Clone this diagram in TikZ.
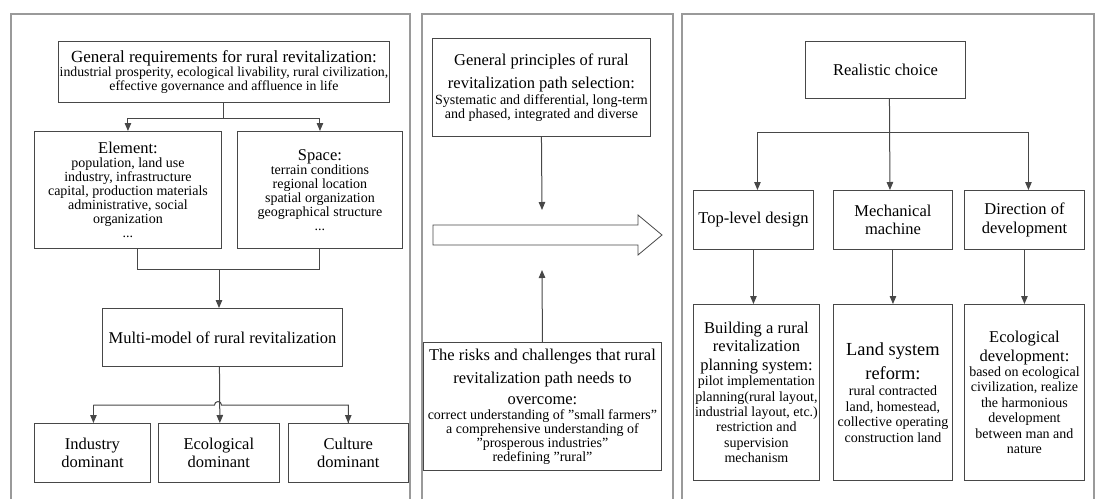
\documentclass[tikz,border=0pt]{standalone}
\usepackage{fontspec}
\setmainfont{Liberation Serif}
\usepackage{tikz}
\usetikzlibrary{positioning,arrows.meta}
\definecolor{boxgray}{HTML}{474747}
\definecolor{panelgray}{HTML}{9A9A9A}
\newcommand{\ttl}{\fontsize{16.5}{18.5}\selectfont}
\newcommand{\bigttl}{\fontsize{18.4}{21}\selectfont}
\newcommand{\bdy}{\fontsize{14}{14}\selectfont}
\tikzset{box node/.style={draw=boxgray, line width=0.9pt, rectangle, inner sep=1pt, align=center, anchor=north west, font=\bdy},
  tall box/.style={box node, font=\fontsize{14}{15.4}\selectfont},
  title box/.style={box node, font=\ttl},
  panel line/.style={draw=panelgray, line width=1.1pt},
  link/.style={draw=boxgray, line width=1pt},
  arr/.style={link, -{Triangle[length=8pt,width=6.5pt]}},}

\begin{document}
\begin{tikzpicture}[x=1pt, y=-1pt]
        \useasboundingbox (0,0) rectangle (1095,498);
        % Panels
        \draw[panel line] (11,500) |- (410,14) -- (410,500);
        \draw[panel line] (422,500) |- (673,14) -- (673,500);
        \draw[panel line] (682,500) |- (1094,14) -- (1094,500);
        % Left panel
        \node[box node, minimum width=331pt, minimum height=61pt] (gen) at (58,41)
          {\fontsize{17}{16}\selectfont General requirements for rural revitalization:\\
           \fontsize{13.8}{13.4}\selectfont industrial prosperity, ecological livability, rural civilization,\\
           \fontsize{13.8}{13.4}\selectfont effective governance and affluence in life};
        \node[box node, minimum width=187pt, minimum height=117pt] (elem) at (34,131)
          {\ttl Element:\\ population, land use\\ industry, infrastructure\\
           capital, production materials\\ administrative, social\\
           organization\\ ...};
        \node[box node, minimum width=165pt, minimum height=117pt] (space) at (237,131)
          {\ttl Space:\\ terrain conditions\\ regional location\\
           spatial organization\\ geographical structure\\ ...};
        \node[title box, minimum width=240pt, minimum height=58pt] (multi) at (102,308)
          {Multi-model of rural revitalization};
        \node[title box, minimum width=116pt, minimum height=59pt] (ind) at (34,423)
          {Industry\\ dominant};
        \node[title box, minimum width=121pt, minimum height=59pt, right=7pt of ind.north east, anchor=north west] (eco) 
          {Ecological\\ dominant};
        \node[title box, minimum width=120pt, minimum height=59pt, right=8pt of eco.north east, anchor=north west] (cul)
          {Culture\\ dominant};
        % Middle panel
        \node[box node, minimum width=218pt, minimum height=98pt] (gp) at (432,38)
          {\ttl General principles of rural\\[7pt] \ttl revitalization path selection:\\[2pt]
           Systematic and differential, long-term\\ and phased, integrated and diverse};
        \node[box node, minimum width=238pt, minimum height=128pt] (risk) at (423,342)
          {\ttl The risks and challenges that rural\\[7pt] \ttl revitalization path needs to\\[7pt]
           \ttl overcome:\\[1pt] correct understanding of "small farmers"\\
           a comprehensive understanding of\\ "prosperous industries"\\
           redefining "rural"};
        \coordinate (gp end) at (542,210);
        \coordinate (risk end) at (542,270);
        % Right panel
        \node[title box, minimum width=160pt, minimum height=57pt] (real) at (805,41)
          {Realistic choice};
        \node[title box, minimum width=120pt, minimum height=59pt] (top) at (693,190)
          {Top-level design};
        \node[title box, minimum width=119pt, minimum height=59pt] (mech) at (833,190)
          {Mechanical\\ machine};
        \node[title box, minimum width=120pt, minimum height=59pt] (dir) at (964,190)
          {Direction of\\ development};
        \node[tall box, minimum width=126pt, minimum height=176pt] (plan) at (693,304)
          {\ttl Building a rural\\[3pt] \ttl revitalization\\[3pt]
           \ttl planning system:\\ pilot implementation\\
           planning(rural layout,\\ industrial layout, etc.)\\ restriction and\\
           supervision\\ mechanism};
        \node[tall box, minimum width=119pt, minimum height=176pt] (land) at (833,304)
          {\bigttl Land system\\[6pt] \bigttl reform:\\[1pt]
           rural contracted\\ land, homestead,\\ collective operating\\
           construction land};
        \node[tall box, minimum width=120pt, minimum height=176pt] (ecodev) at (964,304)
          {\ttl Ecological\\[3pt] \ttl development:\\
           based on ecological\\ civilization, realize\\ the harmonious\\
           development\\ between man and\\ nature};
        % Paths
        \draw[arr] (gen.south) -- ++(0,16) -| (elem.north);
        \draw[arr] (gen.south) -- ++(0,16) -| (space.north);
        \draw[link] ([xshift=10pt]elem.south) -- ++(0,21) -| (space.south);
        \draw[arr] (219,269) -- (219,308);
        \draw[arr] ([xshift=-3pt]multi.south) -- ([xshift=1pt]eco.north);
        \draw[link] (ind.north) ++(1,-18) -- (214.5,405)
          arc[start angle=180, end angle=360, radius=3.5] -| (cul.north);
        \draw[arr] (ind.north) ++(1,-18) -- ([xshift=1pt]ind.north);
        \draw[arr] (cul.north) ++(0,-18) -- (cul.north);
        \draw[arr] (gp.south) -- (gp end);
        \draw[arr] (risk.north) -- (risk end);
        % Hollow arrow
        \draw[draw=boxgray, line width=0.8pt] (433,225) -- (638,225) -- (638,215)
          -- (662,235) -- (638,255) -- (638,245) -- (433,245) -- cycle;
        \draw[arr] ([xshift=4pt]real.south) -- ++(0,34) -| ([xshift=4pt]top.north);
        \draw[arr] ([xshift=4pt]real.south) -- ([xshift=-3pt]mech.north);
        \draw[arr] ([xshift=4pt]real.south) -- ++(0,34) -| ([xshift=4pt]dir.north);
        \draw[arr] (top.south) -- (top.south |- plan.north);
        \draw[arr] (mech.south) -- (land.north);
        \draw[arr] (dir.south) -- (ecodev.north);
    \end{tikzpicture}
\end{document}
